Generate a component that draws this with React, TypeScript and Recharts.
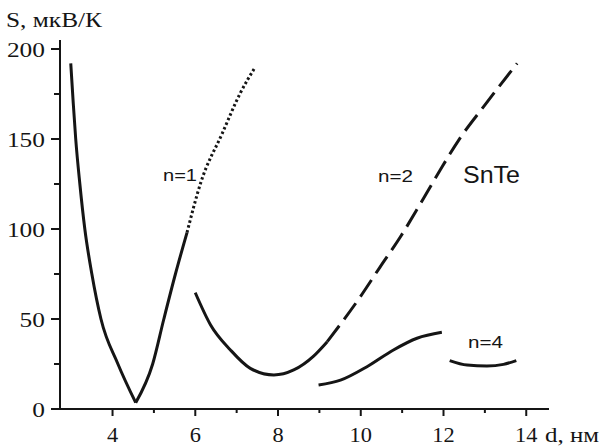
import { LineChart, Line, XAxis, YAxis } from 'recharts';

// n=1, solid V (split at the minimum so the bottom stays sharp)
const n1Left = [
  { x: 2.99, y: 192 },
  { x: 3.05, y: 170 },
  { x: 3.11, y: 150 },
  { x: 3.21, y: 125 },
  { x: 3.33, y: 100 },
  { x: 3.5, y: 75 },
  { x: 3.72, y: 50 },
  { x: 4.13, y: 25 },
  { x: 4.56, y: 3.5 },
];
const n1Right = [
  { x: 4.56, y: 3.5 },
  { x: 4.97, y: 25 },
  { x: 5.24, y: 50 },
  { x: 5.52, y: 75 },
  { x: 5.8, y: 98 },
];
// n=1, dotted continuation
const n1Dotted = [
  { x: 5.8, y: 98 },
  { x: 6.13, y: 125.6 },
  { x: 6.65, y: 153 },
  { x: 7.09, y: 175.6 },
  { x: 7.45, y: 190 },
];
// n=2, solid part
const n2Solid = [
  { x: 6.0, y: 64.6 },
  { x: 6.37, y: 46.7 },
  { x: 6.85, y: 32.8 },
  { x: 7.33, y: 22.6 },
  { x: 7.9, y: 18.9 },
  { x: 8.38, y: 21.7 },
  { x: 8.86, y: 29.4 },
  { x: 9.19, y: 37.4 },
];
// n=2, dashed part
const n2Dashed = [
  { x: 9.19, y: 37.4 },
  { x: 9.99, y: 62.4 },
  { x: 10.47, y: 79 },
  { x: 10.96, y: 95.7 },
  { x: 11.44, y: 114 },
  { x: 11.92, y: 132.8 },
  { x: 12.4, y: 150.5 },
  { x: 12.97, y: 168 },
  { x: 13.78, y: 192 },
];
// n=4
const n4a = [
  { x: 8.98, y: 13.3 },
  { x: 9.51, y: 16 },
  { x: 10.15, y: 23.5 },
  { x: 10.79, y: 32.8 },
  { x: 11.36, y: 39.3 },
  { x: 11.96, y: 42.6 },
];
const n4b = [
  { x: 12.15, y: 26.9 },
  { x: 12.57, y: 24.4 },
  { x: 13.05, y: 23.9 },
  { x: 13.45, y: 24.8 },
  { x: 13.76, y: 26.9 },
];

const xTicks = [4, 5, 6, 7, 8, 9, 10, 11, 12, 13, 14];
const yTicks = [0, 25, 50, 75, 100, 125, 150, 175, 200];

const INK = '#151515';
const SERIF = 'Liberation Serif';
const SANS = 'Liberation Sans';

const XTick = (props: any) => {
  const { x, y, payload } = props;
  const v = payload.value;
  const major = v % 2 === 0;
  const s = String(v);
  return (
    <g>
      <line x1={x} x2={x} y1={y} y2={y + (major ? 7 : 4)} stroke={INK} strokeWidth={2} />
      {major && (
        <text x={x} y={y + 33} textAnchor="middle" fontFamily={SERIF} fontSize={21} fill={INK}
          textLength={s.length * 11.2} lengthAdjust="spacingAndGlyphs">
          {s}
        </text>
      )}
    </g>
  );
};

const YTick = (props: any) => {
  const { x, y, payload } = props;
  const v = payload.value;
  const major = v % 50 === 0;
  const s = String(v);
  return (
    <g>
      <line x1={x - (major ? 9 : 6)} x2={x} y1={y} y2={y} stroke={INK} strokeWidth={2} />
      {major && (
        <text x={x - 15} y={y + 7.5} textAnchor="end" fontFamily={SERIF} fontSize={20} fill={INK}
          textLength={s.length * 12.7} lengthAdjust="spacingAndGlyphs">
          {s}
        </text>
      )}
    </g>
  );
};

const lineProps = {
  type: 'monotone' as const,
  dataKey: 'y',
  stroke: INK,
  strokeWidth: 3,
  dot: false,
  activeDot: false,
  isAnimationActive: false,
};

export default function App() {
  return (
    <div style={{ position: 'absolute', left: 0, top: 0, width: 600, height: 446, background: '#fff' }}>
      <LineChart width={600} height={446} margin={{ top: 40, right: 51, bottom: 0, left: 0 }}>
        <XAxis
          type="number"
          dataKey="x"
          domain={[2.73, 14.55]}
          allowDataOverflow
          ticks={xTicks}
          interval={0}
          tick={<XTick />}
          tickLine={false}
          tickSize={0}
          tickMargin={0}
          height={37}
          axisLine={{ stroke: INK, strokeWidth: 2 }}
        />
        <YAxis
          type="number"
          domain={[0, 205]}
          allowDataOverflow
          ticks={yTicks}
          interval={0}
          tick={<YTick />}
          tickLine={false}
          tickSize={0}
          tickMargin={0}
          width={60}
          axisLine={{ stroke: INK, strokeWidth: 2 }}
        />
        <Line {...lineProps} data={n1Left} />
        <Line {...lineProps} data={n1Right} />
        <Line {...lineProps} data={n1Dotted} strokeDasharray="2.5 2.5" />
        <Line {...lineProps} data={n2Solid} />
        <Line {...lineProps} data={n2Dashed} strokeDasharray="20 8" />
        <Line {...lineProps} data={n4a} />
        <Line {...lineProps} data={n4b} />
      </LineChart>
      <svg width={600} height={446} style={{ position: 'absolute', left: 0, top: 0, pointerEvents: 'none' }}>
        <text x={6} y={27} fontFamily={SERIF} fontSize={20} fill={INK} textLength={96} lengthAdjust="spacingAndGlyphs">
          S, мкВ/К
        </text>
        <text x={545} y={442} fontFamily={SERIF} fontSize={21} fill={INK} textLength={54} lengthAdjust="spacingAndGlyphs">
          d, нм
        </text>
        <text x={163} y={181} fontFamily={SANS} fontSize={17} fill={INK} textLength={34} lengthAdjust="spacingAndGlyphs">
          n=1
        </text>
        <text x={378} y={182} fontFamily={SANS} fontSize={17} fill={INK} textLength={35} lengthAdjust="spacingAndGlyphs">
          n=2
        </text>
        <text x={463} y={183} fontFamily={SANS} fontSize={24} fill={INK} textLength={57} lengthAdjust="spacingAndGlyphs">
          SnTe
        </text>
        <text x={468} y={348} fontFamily={SANS} fontSize={17} fill={INK} textLength={35} lengthAdjust="spacingAndGlyphs">
          n=4
        </text>
      </svg>
    </div>
  );
}
